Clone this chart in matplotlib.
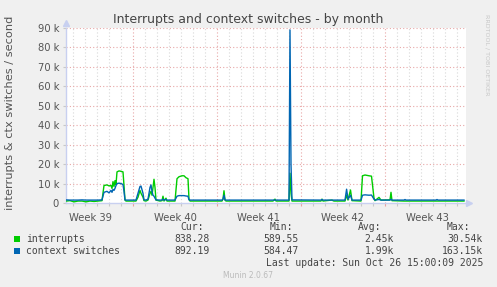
import datetime as dt
import matplotlib
matplotlib.use("Agg")
import matplotlib.pyplot as plt
import matplotlib.dates as mdates
import numpy as np

# ---------------- data ----------------
base_date = dt.datetime(2025, 9, 22)          # Monday, start of week 39
# days since base_date
days = [1.417, 1.75, 2.083, 2.417, 2.75, 3.083, 3.417, 3.75, 4.083, 4.417,
        4.583, 4.833, 5.0, 5.167, 5.25, 5.333, 5.417, 5.5, 5.583, 5.667,
        5.833, 6.0, 6.167, 6.25, 6.333, 6.417, 7.25, 7.417, 7.583, 7.667,
        7.833, 7.917, 8.083, 8.25, 8.417, 8.5, 8.583, 8.667, 8.75, 8.833,
        8.917, 9.25, 9.417, 9.5, 9.583, 9.75, 9.833, 10.5, 10.667, 10.833,
        11.083, 11.25, 11.417, 11.583, 11.667, 11.75, 14.417, 14.5, 14.583, 14.667,
        14.75, 18.667, 18.833, 18.917, 20.0, 20.083, 20.167, 20.25, 22.667, 22.75,
        22.833, 23.583, 23.667, 23.75, 24.667, 24.8, 24.917, 25.125, 25.25, 26.0,
        26.125, 26.333, 26.667, 26.875, 27.083, 27.167, 27.5, 27.667, 28.417, 28.5,
        28.583, 29.583, 29.667, 29.75, 32.25, 32.333, 32.417, 34.583]
# values in thousands per second
interrupts = [1.0, 1.2, 0.6, 1.0, 1.0, 0.6, 1.0, 0.8, 1.0, 1.2,
              9.0, 9.3, 8.8, 9.0, 7.5, 11.0, 8.5, 11.5, 9.5, 16.0,
              16.5, 16.3, 16.0, 9.0, 1.5, 1.0, 1.0, 3.0, 6.5, 5.0,
              3.0, 1.2, 1.0, 1.5, 5.0, 6.0, 4.0, 8.0, 12.2, 8.0,
              1.5, 1.0, 1.2, 3.5, 1.0, 2.5, 1.0, 1.0, 12.5, 13.5,
              14.0, 14.0, 13.0, 12.5, 2.0, 1.0, 1.0, 2.0, 6.3, 1.5,
              1.0, 1.0, 2.0, 1.0, 1.0, 15.3, 5.0, 1.0, 1.0, 2.0,
              1.0, 1.5, 1.2, 1.0, 1.0, 4.0, 1.5, 6.7, 1.2, 1.0,
              14.0, 14.4, 14.0, 13.8, 2.5, 1.2, 2.9, 1.5, 1.6, 5.5,
              1.2, 1.0, 1.0, 1.0, 1.0, 1.0, 1.0, 1.0]
context_switches = [1.6, 1.5, 1.5, 1.5, 1.6, 1.5, 1.5, 1.5, 1.5, 1.6,
                    5.5, 6.0, 5.2, 6.5, 5.5, 7.0, 6.5, 7.5, 9.0, 10.0,
                    10.2, 10.0, 9.5, 6.0, 1.6, 1.5, 1.5, 5.0, 8.5, 8.7,
                    5.0, 1.6, 1.5, 2.0, 8.0, 9.3, 6.0, 4.0, 3.5, 2.5,
                    1.6, 1.5, 1.5, 2.0, 1.5, 1.8, 1.5, 1.5, 3.5, 3.8,
                    3.8, 3.8, 3.6, 3.5, 1.6, 1.5, 1.5, 2.0, 4.0, 1.6,
                    1.5, 1.5, 1.5, 1.5, 1.5, 89.0, 20.0, 1.6, 1.5, 1.8,
                    1.5, 1.5, 1.5, 1.5, 1.5, 7.1, 2.0, 4.0, 1.5, 1.5,
                    4.0, 4.2, 4.0, 4.1, 2.0, 1.5, 1.8, 1.5, 1.5, 2.0,
                    1.5, 1.5, 1.8, 1.5, 1.5, 1.8, 1.5, 1.5]

series_names = ["interrupts", "context switches"]
series_colors = ["#00CC00", "#0066B3"]
stats_cur = ["838.28", "892.19"]
stats_min = ["589.55", "584.47"]
stats_avg = ["2.45k", "1.99k"]
stats_max = ["30.54k", "163.15k"]
week_labels = ["Week 39", "Week 40", "Week 41", "Week 42", "Week 43"]
y_ticks_k = [0, 10, 20, 30, 40, 50, 60, 70, 80, 90]

title = "Interrupts and context switches - by month"
ylabel = "interrupts & ctx switches / second"
last_update = "Last update: Sun Oct 26 15:00:09 2025"
footer = "Munin 2.0.67"
side_text = "RRDTOOL / TOBI OETIKER"

# ---------------- figure ----------------
W, H = 497, 287
fig = plt.figure(figsize=(W / 100, H / 100), dpi=100, facecolor="#F0F0F0")
ax = fig.add_axes([66 / W, 84 / H, 400 / W, 175 / H])
ax.set_facecolor("white")

b0 = mdates.date2num(base_date)
x = b0 + np.array(days)
start = b0 + 1.417
end = start + 400 / 12.0

ax.plot(x, np.array(interrupts) * 1000, color=series_colors[0], lw=1.0, zorder=3)
ax.plot(x, np.array(context_switches) * 1000, color=series_colors[1], lw=1.0, zorder=4)

ax.set_xlim(start, end)
ax.set_ylim(0, 90000)

# grid: days (gray), mondays (red), 10k (red)
day_ticks = np.arange(np.ceil(start - b0), end - b0 + 1e-9) + b0
mondays = [d for d in day_ticks if int(round(d - b0)) % 7 == 0]
for d in day_ticks:
    if d in mondays:
        continue
    ax.axvline(d, color="#D8D8D8", lw=0.8, ls=(0, (1, 2)), zorder=1)
for d in mondays:
    ax.axvline(d, color="#E8A8A8", lw=0.8, ls=(0, (1, 2)), zorder=1.5)
for yk in y_ticks_k[1:]:
    ax.axhline(yk * 1000, color="#E8A8A8", lw=0.8, ls=(0, (1, 2)), zorder=1.5)

ax.set_yticks([v * 1000 for v in y_ticks_k])
ax.set_yticklabels(["0" if v == 0 else f"{v} k" for v in y_ticks_k])
ax.set_xticks(mondays)
ax.set_xticklabels([])
ax.set_xticks(day_ticks, minor=True)
ax.tick_params(axis="y", length=2, width=0.8, color="#C8C8C8", labelsize=7.2,
               labelcolor="#555555", pad=3)
ax.tick_params(axis="x", which="major", length=2, width=0.8, color="#E8A0A0")
ax.tick_params(axis="x", which="minor", length=2, width=0.8, color="#C8C8C8")

trans = ax.get_xaxis_transform()
for i, lab in enumerate(week_labels):
    xm = b0 + 3.5 + 7 * i
    ax.text(xm, -0.055, lab, transform=trans, ha="center", va="top",
            fontsize=7.2, color="#555555")

for s in ["top", "right"]:
    ax.spines[s].set_visible(False)
ax.spines["left"].set_color("#C8D0F0")
ax.spines["bottom"].set_color("#C8D0F0")
ax.spines["left"].set_linewidth(1.0)
ax.spines["bottom"].set_linewidth(1.0)
ax.plot([0], [1.03], marker="^", color="#C8D0F0", ms=4, transform=ax.transAxes,
        clip_on=False)
ax.plot([1.008], [0], marker=">", color="#C8D0F0", ms=4, transform=ax.transAxes,
        clip_on=False)

def ft(px, py, s, **kw):
    fig.text(px / W, 1 - py / H, s, **kw)

ft(248, 19, title, ha="center", va="center", fontsize=9, color="#444444")
ft(10, 113, ylabel, ha="center", va="center", rotation=90, fontsize=8.2,
   color="#555555")
ft(487, 14, side_text, ha="center", va="top", rotation=270, fontsize=4.6,
   color="#C8C8C8")

mono = dict(family="DejaVu Sans Mono", fontsize=7, color="#444444", va="center")
ft(204, 227, "Cur:", ha="right", **mono)
ft(293, 227, "Min:", ha="right", **mono)
ft(381, 227, "Avg:", ha="right", **mono)
ft(470, 227, "Max:", ha="right", **mono)
for i, name in enumerate(series_names):
    py = 239 + 12 * i
    fig.patches.append(plt.Rectangle((14 / W, 1 - (py + 3) / H), 6 / W, 6 / H,
                                     transform=fig.transFigure,
                                     color=series_colors[i], lw=0))
    ft(26, py, name, ha="left", **mono)
    ft(210, py, stats_cur[i], ha="right", **mono)
    ft(299, py, stats_min[i], ha="right", **mono)
    ft(394, py, stats_avg[i], ha="right", **mono)
    ft(483, py, stats_max[i], ha="right", **mono)
ft(483, 263, last_update, ha="right", **mono)
ft(248, 276, footer, ha="center", va="center", fontsize=5.5, color="#BBBBBB")

fig.savefig("out.png", dpi=100, facecolor=fig.get_facecolor())
